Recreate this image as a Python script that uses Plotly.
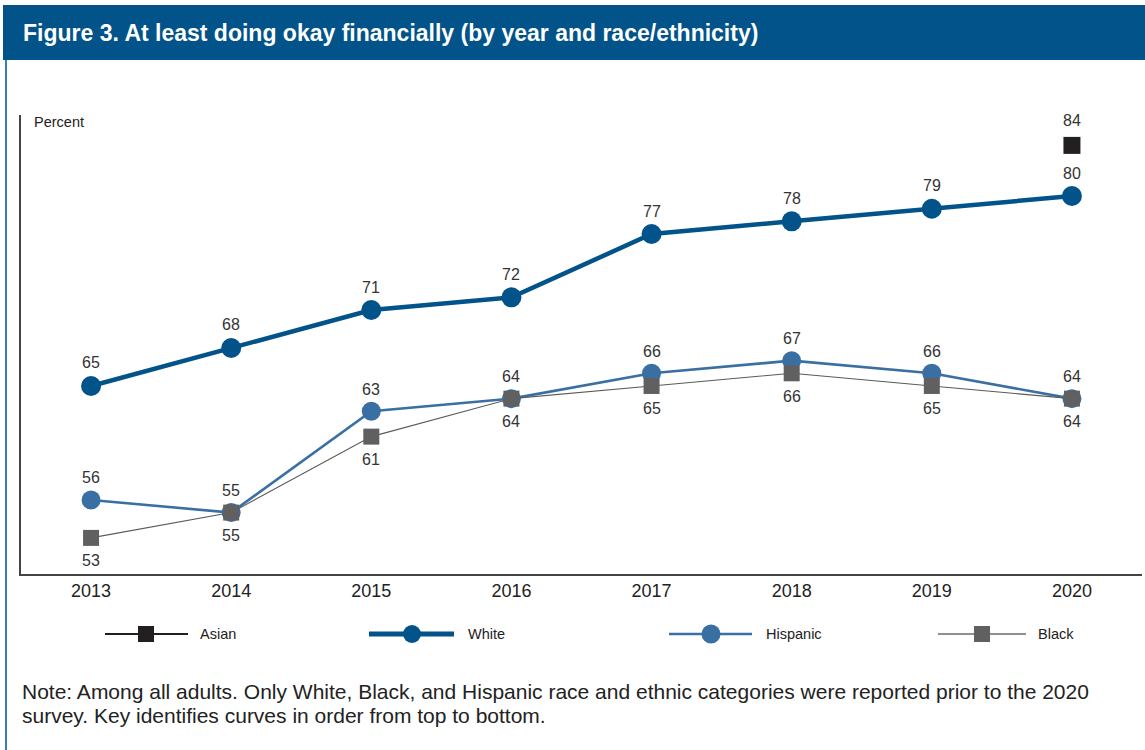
import plotly.graph_objects as go

# Survey years and share (%) of adults at least doing okay financially
years = [2013, 2014, 2015, 2016, 2017, 2018, 2019, 2020]
white = [65, 68, 71, 72, 77, 78, 79, 80]
hispanic = [56, 55, 63, 64, 66, 67, 66, 64]
black = [53, 55, 61, 64, 65, 66, 65, 64]
asian_years = [2020]
asian = [84]

W, H = 1145, 750
FONT = "Liberation Sans, Arial, sans-serif"
NAVY = "#01538a"
HISP = "#3a6fa3"
GREY = "#606060"
ASIAN = "#231f20"
LABEL = "#333333"


def px_x(px):
    return px / W


def px_y(py):
    return 1 - py / H


fig = go.Figure()

fig.add_trace(go.Scatter(
    x=years, y=hispanic, mode="lines+markers", name="Hispanic",
    line=dict(color=HISP, width=2.6),
    marker=dict(symbol="circle", size=19, color=HISP),
    showlegend=False,
))
fig.add_trace(go.Scatter(
    x=years, y=black, mode="lines+markers", name="Black",
    line=dict(color="#5a5a5a", width=1.1),
    marker=dict(symbol="square", size=16, color=GREY),
    showlegend=False,
))
fig.add_trace(go.Scatter(
    x=years, y=white, mode="lines+markers", name="White",
    line=dict(color=NAVY, width=4.5),
    marker=dict(symbol="circle", size=20, color=NAVY),
    showlegend=False,
))
fig.add_trace(go.Scatter(
    x=asian_years, y=asian, mode="markers", name="Asian",
    marker=dict(symbol="square", size=17, color=ASIAN),
    showlegend=False,
))

annotations = []


def value_labels(xs, ys, shift):
    for xv, yv in zip(xs, ys):
        annotations.append(dict(
            x=xv, y=yv, xref="x", yref="y", text=str(yv), showarrow=False,
            yshift=shift, xanchor="center", yanchor="middle",
            font=dict(family=FONT, size=16, color=LABEL)))


value_labels(years, white, 23)
value_labels(years, hispanic, 22)
value_labels(years, black, -23)
value_labels(asian_years, asian, 25)

shapes = [
    # header band
    dict(type="rect", xref="paper", yref="paper",
         x0=px_x(3), x1=1.0, y0=px_y(60), y1=px_y(5),
         fillcolor=NAVY, line=dict(width=0), layer="below"),
    # left frame rule
    dict(type="line", xref="paper", yref="paper",
         x0=px_x(6), x1=px_x(6), y0=0, y1=px_y(60),
         line=dict(color="#3b7db5", width=2)),
]

# key: line segment, marker, label (top to bottom order of curves)
key = [
    ("Asian", 105, 188, 146, "square", 16, ASIAN, 2.2, ASIAN, 198),
    ("White", 369, 454, 412, "circle", 18, NAVY, 5, NAVY, 466),
    ("Hispanic", 669, 752, 711, "circle", 19, HISP, 2.6, HISP, 764),
    ("Black", 938, 1026, 982, "square", 16, GREY, 1.6, "#6a6a6a", 1036),
]
KEY_Y = 634
for name, lx0, lx1, mx, sym, sz, mcol, lw, lcol, tx in key:
    shapes.append(dict(type="line", xref="paper", yref="paper",
                       x0=px_x(lx0), x1=px_x(lx1), y0=px_y(KEY_Y), y1=px_y(KEY_Y),
                       line=dict(color=lcol, width=lw)))
    shapes.append(dict(type="rect" if sym == "square" else "circle",
                       xref="paper", yref="paper",
                       xsizemode="pixel", ysizemode="pixel",
                       xanchor=px_x(mx), yanchor=px_y(KEY_Y),
                       x0=-sz / 2, x1=sz / 2, y0=-sz / 2, y1=sz / 2,
                       fillcolor=mcol, line=dict(width=0)))
    annotations.append(dict(text=name, xref="paper", yref="paper",
                            x=px_x(tx), y=px_y(KEY_Y), xanchor="left", yanchor="middle",
                            showarrow=False,
                            font=dict(family=FONT, size=14.5, color="#222222")))

note_lines = [
    "Note: Among all adults. Only White, Black, and Hispanic race and ethnic categories were reported prior to the 2020",
    "survey. Key identifies curves in order from top to bottom.",
]

annotations += [
    dict(text="<b>Figure 3. At least doing okay financially (by year and race/ethnicity)</b>",
         xref="paper", yref="paper", x=px_x(21), y=px_y(33),
         xanchor="left", yanchor="middle", showarrow=False,
         font=dict(family=FONT, size=23, color="white")),
    dict(text="Percent", xref="paper", yref="paper", x=px_x(32), y=px_y(122),
         xanchor="left", yanchor="middle", showarrow=False,
         font=dict(family=FONT, size=14.5, color="#222222")),
    dict(text=note_lines[0], xref="paper", yref="paper", x=px_x(20), y=px_y(691),
         xanchor="left", yanchor="middle", showarrow=False,
         font=dict(family=FONT, size=21, color="#222222")),
    dict(text=note_lines[1], xref="paper", yref="paper", x=px_x(20), y=px_y(715),
         xanchor="left", yanchor="middle", showarrow=False,
         font=dict(family=FONT, size=21, color="#222222")),
]

fig.update_layout(
    width=W, height=H,
    margin=dict(l=0, r=0, t=0, b=0),
    paper_bgcolor="white", plot_bgcolor="white",
    shapes=shapes, annotations=annotations,
    xaxis=dict(domain=[px_x(21), px_x(1142)], range=[2012.5, 2020.5],
               tickmode="array", tickvals=years, ticktext=[str(y) for y in years],
               showgrid=False, zeroline=False, showline=True,
               linecolor="#444444", linewidth=1.5, ticks="",
               tickfont=dict(family=FONT, size=18, color="#222222")),
    yaxis=dict(domain=[px_y(574), px_y(115)], range=[50.15, 86.4],
               showgrid=False, zeroline=False, showline=True,
               linecolor="#444444", linewidth=1.5, showticklabels=False, ticks=""),
)

fig.write_html("out.html")
